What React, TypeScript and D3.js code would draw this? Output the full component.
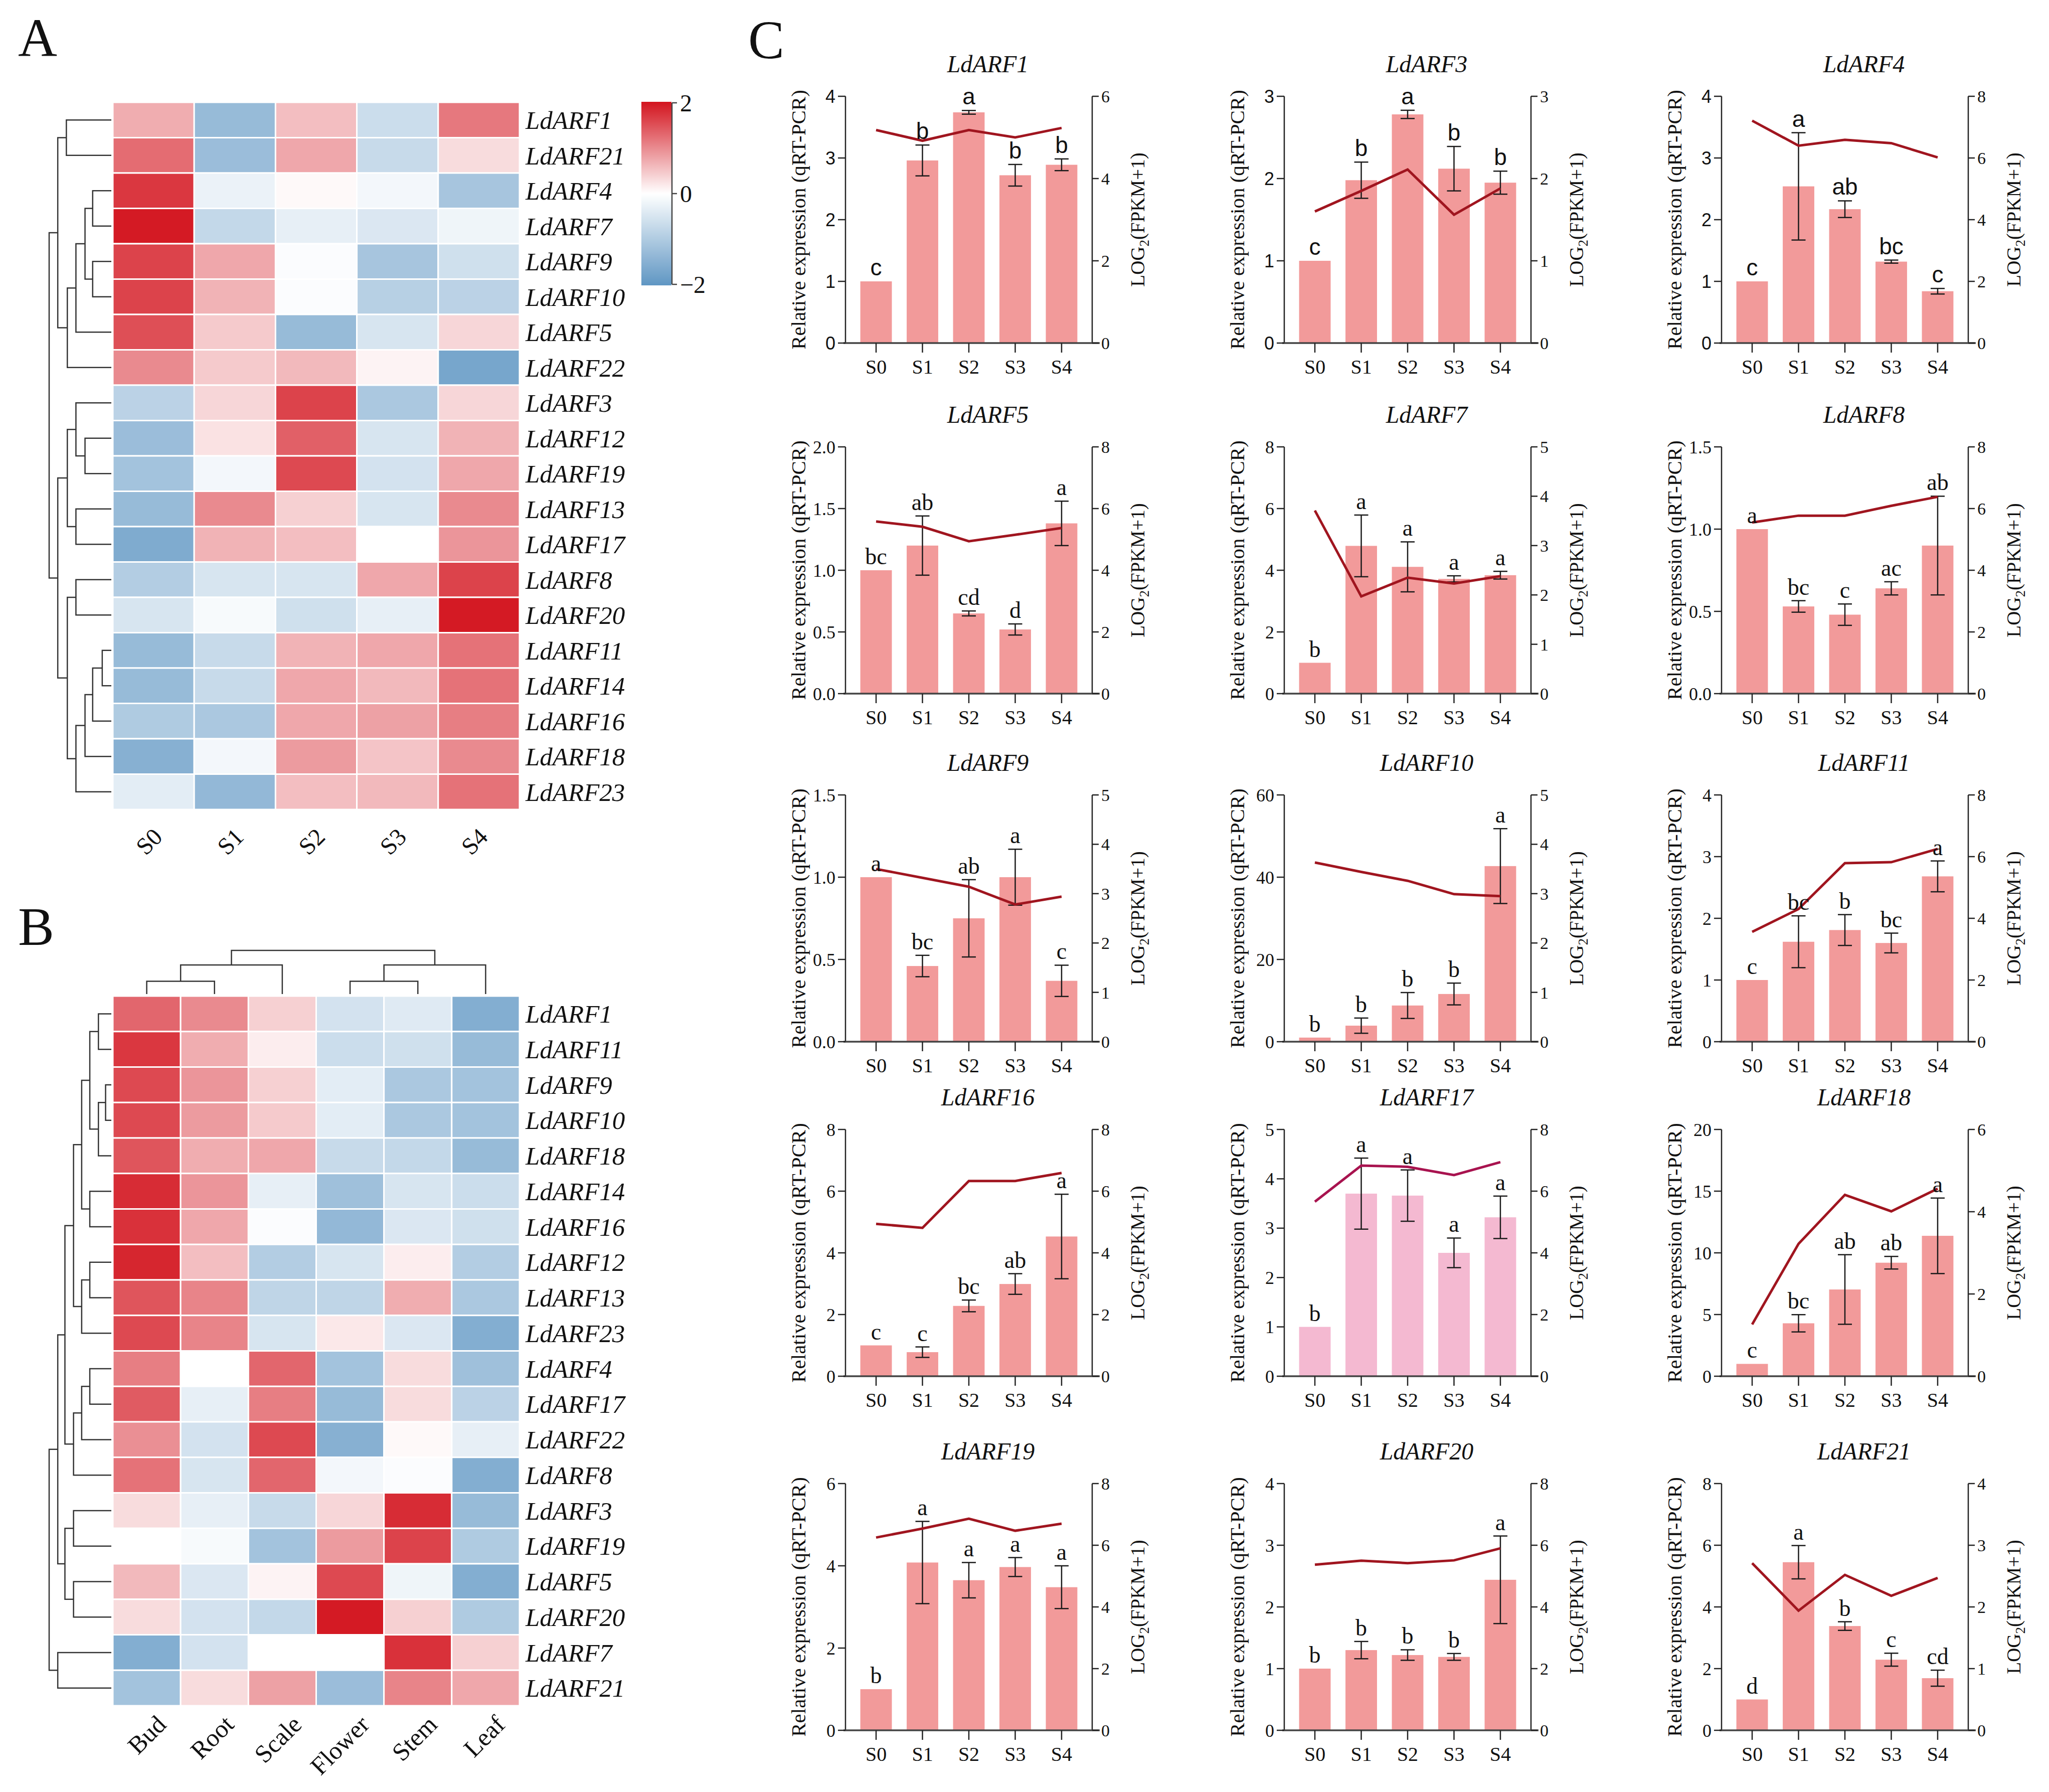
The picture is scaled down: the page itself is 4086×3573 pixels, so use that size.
import * as d3 from 'd3';

// ---------- heatmap data ----------
const stages = ['S0', 'S1', 'S2', 'S3', 'S4'];
const tissues = ['Bud', 'Root', 'Scale', 'Flower', 'Stem', 'Leaf'];

const stageGenes = ['LdARF1', 'LdARF21', 'LdARF4', 'LdARF7', 'LdARF9', 'LdARF10', 'LdARF5', 'LdARF22', 'LdARF3', 'LdARF12',
  'LdARF19', 'LdARF13', 'LdARF17', 'LdARF8', 'LdARF20', 'LdARF11', 'LdARF14', 'LdARF16', 'LdARF18', 'LdARF23'];
const stageZ = [
  [0.7, -1.3, 0.55, -0.65, 1.15],
  [1.25, -1.25, 0.75, -0.7, 0.3],
  [1.7, -0.25, 0.05, -0.15, -1.1],
  [1.95, -0.75, -0.3, -0.45, -0.2],
  [1.6, 0.75, -0.05, -1.1, -0.6],
  [1.6, 0.65, -0.05, -0.9, -0.85],
  [1.5, 0.45, -1.3, -0.5, 0.35],
  [1.0, 0.45, 0.6, 0.1, -1.7],
  [-0.85, 0.35, 1.6, -1.05, 0.35],
  [-1.25, 0.25, 1.35, -0.5, 0.65],
  [-1.15, -0.15, 1.55, -0.55, 0.75],
  [-1.3, 1.0, 0.4, -0.5, 1.0],
  [-1.6, 0.65, 0.55, 0.0, 0.9],
  [-0.95, -0.5, -0.5, 0.75, 1.6],
  [-0.5, -0.1, -0.6, -0.3, 1.95],
  [-1.3, -0.7, 0.65, 0.75, 1.2],
  [-1.3, -0.7, 0.75, 0.6, 1.2],
  [-1.0, -1.05, 0.75, 0.8, 1.1],
  [-1.5, -0.15, 0.85, 0.5, 1.0],
  [-0.35, -1.35, 0.55, 0.6, 1.2],
];

const tissueGenes = ['LdARF1', 'LdARF11', 'LdARF9', 'LdARF10', 'LdARF18', 'LdARF14', 'LdARF16', 'LdARF12', 'LdARF13', 'LdARF23',
  'LdARF4', 'LdARF17', 'LdARF22', 'LdARF8', 'LdARF3', 'LdARF19', 'LdARF5', 'LdARF20', 'LdARF7', 'LdARF21'];
const tissueZ = [
  [1.3, 1.0, 0.4, -0.55, -0.4, -1.55],
  [1.7, 0.7, 0.15, -0.65, -0.6, -1.3],
  [1.55, 0.9, 0.4, -0.35, -1.05, -1.15],
  [1.55, 0.85, 0.45, -0.35, -1.05, -1.15],
  [1.45, 0.7, 0.75, -0.7, -0.75, -1.3],
  [1.8, 0.9, -0.3, -1.2, -0.5, -0.65],
  [1.75, 0.75, -0.05, -1.35, -0.45, -0.6],
  [1.85, 0.55, -0.95, -0.5, 0.15, -0.95],
  [1.45, 1.05, -0.8, -0.8, 0.7, -1.05],
  [1.55, 1.05, -0.5, 0.2, -0.45, -1.55],
  [1.1, 0.0, 1.3, -1.15, 0.3, -1.2],
  [1.4, -0.3, 1.1, -1.3, 0.3, -0.85],
  [0.95, -0.55, 1.55, -1.5, 0.05, -0.3],
  [1.2, -0.5, 1.3, -0.15, -0.05, -1.55],
  [0.3, -0.3, -0.7, 0.35, 1.8, -1.3],
  [0.0, -0.1, -1.15, 0.85, 1.6, -1.0],
  [0.6, -0.45, 0.1, 1.55, -0.2, -1.55],
  [0.3, -0.55, -0.75, 1.95, 0.4, -1.0],
  [-1.55, -0.55, 0.0, 0.0, 1.75, 0.4],
  [-1.15, 0.3, 0.8, -1.25, 1.05, 0.75],
];

// dendrograms: merge height + two children
type Tree = string | { h: number; c: [Tree, Tree] };
const m = (h: number, a: Tree, b: Tree): Tree => ({ h, c: [a, b] });

const stageRowTree = m(130,
  m(112, m(94, 'LdARF1', 'LdARF21'),
    m(92, m(74, m(55, m(39, 'LdARF4', 'LdARF7'), m(39, 'LdARF9', 'LdARF10')), 'LdARF5'), 'LdARF22')),
  m(112,
    m(92, m(74, 'LdARF3', m(55, 'LdARF12', 'LdARF19')), m(74, 'LdARF13', 'LdARF17')),
    m(92, m(74, 'LdARF8', 'LdARF20'),
      m(74, m(55, m(39, m(19, 'LdARF11', 'LdARF14'), 'LdARF16'), 'LdARF18'), 'LdARF23'))));

const tissueRowTree = m(130,
  m(112,
    m(97,
      m(79,
        m(62, m(45, m(27, 'LdARF1', 'LdARF11'), m(27, m(12, 'LdARF9', 'LdARF10'), 'LdARF18')), m(45, 'LdARF14', 'LdARF16')),
        m(62, m(45, 'LdARF12', 'LdARF13'), 'LdARF23')),
      m(79, m(62, m(45, 'LdARF4', 'LdARF17'), 'LdARF22'), 'LdARF8')),
    m(97, m(79, 'LdARF3', 'LdARF19'), m(79, 'LdARF5', 'LdARF20'))),
  m(112, 'LdARF7', 'LdARF21'));

const tissueColTree = m(75, m(50, m(22, 'Bud', 'Root'), 'Scale'), m(50, m(22, 'Flower', 'Stem'), 'Leaf'));

// ---------- qRT-PCR / FPKM data ----------
const chartGenes = ['LdARF1', 'LdARF3', 'LdARF4', 'LdARF5', 'LdARF7', 'LdARF8', 'LdARF9', 'LdARF10', 'LdARF11',
  'LdARF16', 'LdARF17', 'LdARF18', 'LdARF19', 'LdARF20', 'LdARF21'];
const qpcrMean = [
  [1, 2.96, 3.74, 2.72, 2.89],
  [1, 1.98, 2.78, 2.12, 1.95],
  [1, 2.54, 2.17, 1.32, 0.84],
  [1, 1.2, 0.65, 0.52, 1.38],
  [1, 4.79, 4.11, 3.72, 3.84],
  [1, 0.53, 0.48, 0.64, 0.9],
  [1, 0.46, 0.75, 1.0, 0.37],
  [1, 3.9, 8.8, 11.6, 42.7],
  [1, 1.62, 1.81, 1.6, 2.68],
  [1, 0.78, 2.28, 2.99, 4.53],
  [1, 3.7, 3.66, 2.5, 3.22],
  [1, 4.29, 7.03, 9.2, 11.38],
  [1, 4.08, 3.65, 3.97, 3.48],
  [1, 1.3, 1.22, 1.19, 2.44],
  [1, 5.45, 3.38, 2.29, 1.69],
];
const qpcrErr = [
  [0, 0.25, 0.03, 0.175, 0.095],
  [0, 0.22, 0.05, 0.27, 0.14],
  [0, 0.87, 0.135, 0.025, 0.045],
  [0, 0.24, 0.02, 0.045, 0.18],
  [0, 1.0, 0.81, 0.1, 0.125],
  [0, 0.035, 0.065, 0.04, 0.3],
  [0, 0.065, 0.235, 0.17, 0.095],
  [0, 1.85, 3.15, 2.65, 9.1],
  [0, 0.42, 0.25, 0.16, 0.25],
  [0, 0.17, 0.19, 0.335, 1.37],
  [0, 0.72, 0.52, 0.3, 0.43],
  [0, 0.7, 2.82, 0.51, 3.06],
  [0, 1.0, 0.43, 0.23, 0.52],
  [0, 0.14, 0.085, 0.055, 0.71],
  [0, 0.54, 0.14, 0.21, 0.26],
];
const fpkmLog2 = [
  [5.18, 4.92, 5.18, 5.0, 5.23],
  [1.6, 1.85, 2.11, 1.56, 1.88],
  [7.21, 6.4, 6.59, 6.48, 6.02],
  [5.58, 5.41, 4.94, 5.15, 5.37],
  [3.71, 1.97, 2.35, 2.23, 2.38],
  [5.55, 5.77, 5.77, 6.09, 6.38],
  [3.5, 3.32, 3.14, 2.78, 2.94],
  [3.63, 3.44, 3.26, 2.99, 2.95],
  [3.56, 4.3, 5.79, 5.82, 6.25],
  [4.94, 4.81, 6.33, 6.33, 6.59],
  [5.66, 6.83, 6.79, 6.52, 6.94],
  [1.26, 3.22, 4.41, 4.01, 4.56],
  [6.25, 6.54, 6.86, 6.47, 6.7],
  [5.37, 5.5, 5.42, 5.51, 5.9],
  [2.71, 1.94, 2.52, 2.18, 2.47],
];
const sigLetters = [
  ['c', 'b', 'a', 'b', 'b'],
  ['c', 'b', 'a', 'b', 'b'],
  ['c', 'a', 'ab', 'bc', 'c'],
  ['bc', 'ab', 'cd', 'd', 'a'],
  ['b', 'a', 'a', 'a', 'a'],
  ['a', 'bc', 'c', 'ac', 'ab'],
  ['a', 'bc', 'ab', 'a', 'c'],
  ['b', 'b', 'b', 'b', 'a'],
  ['c', 'bc', 'b', 'bc', 'a'],
  ['c', 'c', 'bc', 'ab', 'a'],
  ['b', 'a', 'a', 'a', 'a'],
  ['c', 'bc', 'ab', 'ab', 'a'],
  ['b', 'a', 'a', 'a', 'a'],
  ['b', 'b', 'b', 'b', 'a'],
  ['d', 'a', 'b', 'c', 'cd'],
];
const leftMax = [4, 3, 4, 2, 8, 1.5, 1.5, 60, 4, 8, 5, 20, 6, 4, 8];
const leftStep = [1, 1, 1, 0.5, 2, 0.5, 0.5, 20, 1, 2, 1, 5, 2, 1, 2];
const rightMax = [6, 3, 8, 8, 5, 8, 5, 5, 8, 8, 8, 6, 8, 8, 4];
const rightStep = [2, 1, 2, 2, 1, 2, 1, 1, 2, 2, 2, 2, 2, 2, 1];

// ---------- layout / style ----------
const W = 4086, H = 3573;
const serif = "'Liberation Serif', 'DejaVu Serif', serif";
const sans = "'Liberation Sans', Arial, sans-serif";
const colLeft = [1686, 2561, 3433];
const rowBottom = [684, 1383, 2077, 2744, 3450];
const plotW = 492, plotH = 492;

const heat = d3.scaleLinear<string>().domain([-2, 0, 2]).range(['#5f96c3', '#ffffff', '#d3141e']).clamp(true);

function dendroPaths(tree: Tree, leafPos: (n: string) => number, hPos: (h: number) => number, rows: boolean) {
  const out: string[] = [];
  const walk = (n: Tree): { p: number; h: number } => {
    if (typeof n === 'string') return { p: leafPos(n), h: 0 };
    const [a, b] = n.c.map(walk);
    const hh = hPos(n.h);
    const pts = [[a.p, hPos(a.h)], [a.p, hh], [b.p, hh], [b.p, hPos(b.h)]];
    out.push('M' + pts.map(([p, q]) => (rows ? `${q},${p}` : `${p},${q}`)).join('L'));
    return { p: (a.p + b.p) / 2, h: n.h };
  };
  walk(tree);
  return out;
}

function Heatmap(props: {
  genes: string[]; cols: string[]; z: number[][]; box: number[]; rowTree: Tree; colTree?: Tree;
  labelDx: number; labelDy: number; colFont: number;
}) {
  const { genes, cols, z, box, rowTree, colTree, labelDx, labelDy, colFont } = props;
  const [x0, x1, y0, y1] = box;
  const xb = d3.scaleBand().domain(cols).range([x0, x1]);
  const yb = d3.scaleBand().domain(genes).range([y0, y1]);
  const hRow = d3.scaleLinear().domain([0, 130]).range([x0 - 3, 98]);
  const rowPaths = dendroPaths(rowTree, g => yb(g)! + yb.bandwidth() / 2, hRow, true);
  const colPaths = colTree
    ? dendroPaths(colTree, c => xb(c)! + xb.bandwidth() / 2, d3.scaleLinear().domain([0, 75]).range([y0 - 4, 1895]), false)
    : [];
  return (
    <g>
      {genes.map((g, i) => cols.map((c, j) => (
        <rect key={g + c} x={xb(c)} y={yb(g)} width={xb.bandwidth()} height={yb.bandwidth()}
          fill={heat(z[i][j])} stroke="#fff" strokeWidth={3} />
      )))}
      {genes.map(g => (
        <text key={g} x={x1 + 12} y={yb(g)! + yb.bandwidth() / 2} dy="0.35em" fontFamily={serif}
          fontStyle="italic" fontSize={51} fill="#111">{g}</text>
      ))}
      {cols.map(c => {
        const cx = xb(c)! + xb.bandwidth() / 2 + labelDx;
        const cy = y1 + labelDy;
        return (
          <text key={c} transform={`translate(${cx},${cy}) rotate(-45)`} textAnchor="end" dy="0.75em"
            fontFamily={serif} fontSize={colFont} fill="#111">{c}</text>
        );
      })}
      {[...rowPaths, ...colPaths].map((p, i) => (
        <path key={i} d={p} fill="none" stroke="#333" strokeWidth={2.5} />
      ))}
    </g>
  );
}

function Legend() {
  const ly = d3.scaleLinear().domain([2, -2]).range([205, 567]);
  const stops = d3.range(0, 1.0001, 0.05);
  return (
    <g>
      <defs>
        <linearGradient id="hg" x1="0" y1="0" x2="0" y2="1">
          {stops.map(t => <stop key={t} offset={t} stopColor={heat(2 - 4 * t)} />)}
        </linearGradient>
      </defs>
      <rect x={1279} y={203} width={60} height={366} fill="url(#hg)" />
      <line x1={1340} x2={1340} y1={ly(2)} y2={ly(-2)} stroke="#444" strokeWidth={2.5} />
      {[2, 0, -2].map(v => (
        <g key={v}>
          <line x1={1340} x2={1350} y1={ly(v)} y2={ly(v)} stroke="#444" strokeWidth={2.5} />
          <text x={1356} y={ly(v)} dy="0.35em" fontFamily={serif} fontSize={48} fill="#111">
            {v < 0 ? '\u2212' + Math.abs(v) : v}
          </text>
        </g>
      ))}
    </g>
  );
}

function BarPanel({ i }: { i: number }) {
  const col = i % 3, row = Math.floor(i / 3);
  const left = colLeft[col], bottom = rowBottom[row];
  const right = left + plotW, top = bottom - plotH;
  const mid = (top + bottom) / 2;
  const x = d3.scaleBand().domain(stages).range([left, right]).paddingInner(0.32).paddingOuter(0.32);
  const cx = (s: string) => x(s)! + x.bandwidth() / 2;
  const yL = d3.scaleLinear().domain([0, leftMax[i]]).range([bottom, top]);
  const yR = d3.scaleLinear().domain([0, rightMax[i]]).range([bottom, top]);
  const lTicks = d3.range(0, leftMax[i] + 1e-9, leftStep[i]);
  const rTicks = d3.range(0, rightMax[i] + 1e-9, rightStep[i]);
  const fmt = leftStep[i] < 1 ? d3.format('.1f') : d3.format('d');
  const pink = chartGenes[i] === 'LdARF17';
  const barFill = pink ? '#f4b9d1' : '#f29a9a';
  const lineColor = pink ? '#a8134f' : '#a0151f';
  const markFont = row === 0 ? sans : serif;
  const path = d3.line<number>().x((_, j) => cx(stages[j])).y(v => yR(v))(fpkmLog2[i]) || '';
  return (
    <g>
      <text x={(left + right) / 2 + 38} y={top - 48} textAnchor="middle" fontFamily={serif} fontStyle="italic"
        fontSize={48} fill="#111">{chartGenes[i]}</text>
      {stages.map((s, j) => (
        <rect key={s} x={x(s)} y={yL(qpcrMean[i][j])} width={x.bandwidth()}
          height={bottom - yL(qpcrMean[i][j])} fill={barFill} />
      ))}
      {stages.map((s, j) => {
        const e = qpcrErr[i][j];
        if (!e) return null;
        const v = qpcrMean[i][j];
        return (
          <g key={s} stroke="#1a1a1a" strokeWidth={2.5}>
            <line x1={cx(s)} x2={cx(s)} y1={yL(v - e)} y2={yL(v + e)} />
            <line x1={cx(s) - 14} x2={cx(s) + 14} y1={yL(v - e)} y2={yL(v - e)} />
            <line x1={cx(s) - 14} x2={cx(s) + 14} y1={yL(v + e)} y2={yL(v + e)} />
          </g>
        );
      })}
      <path d={path} fill="none" stroke={lineColor} strokeWidth={5} strokeLinejoin="miter" />
      {stages.map((s, j) => (
        <text key={s} x={cx(s)} y={yL(qpcrMean[i][j] + qpcrErr[i][j]) - 12} textAnchor="middle"
          fontFamily={markFont} fontSize={46} fill="#111">{sigLetters[i][j]}</text>
      ))}
      {/* axes */}
      <line x1={left} x2={left} y1={top} y2={bottom} stroke="#222" strokeWidth={2.5} />
      <line x1={right} x2={right} y1={top} y2={bottom} stroke="#222" strokeWidth={2.5} />
      <line x1={left - 4} x2={right + 15} y1={bottom} y2={bottom} stroke="#444" strokeWidth={3.5} />
      {lTicks.map(t => (
        <g key={t}>
          <line x1={left - 15} x2={left} y1={yL(t)} y2={yL(t)} stroke="#222" strokeWidth={2.5} />
          <text x={left - 20} y={yL(t)} dy="0.35em" textAnchor="end" fontFamily={markFont} fontSize={36}
            fill="#111">{fmt(t)}</text>
        </g>
      ))}
      {rTicks.map(t => (
        <g key={t}>
          <line x1={right} x2={right + 13} y1={yR(t)} y2={yR(t)} stroke="#222" strokeWidth={2.5} />
          <text x={right + 18} y={yR(t)} dy="0.35em" fontFamily={serif} fontSize={34} fill="#111">{t}</text>
        </g>
      ))}
      {stages.map(s => (
        <g key={s}>
          <line x1={cx(s)} x2={cx(s)} y1={bottom} y2={bottom + 19} stroke="#222" strokeWidth={2.5} />
          <text x={cx(s)} y={bottom + 61} textAnchor="middle" fontFamily={serif} fontSize={40} fill="#111">{s}</text>
        </g>
      ))}
      <text transform={`translate(${left - 80},${mid}) rotate(-90)`} textAnchor="middle" fontFamily={serif}
        fontSize={41} fill="#111">Relative expression (qRT-PCR)</text>
      <text transform={`translate(${right + 104},${mid}) rotate(-90)`} textAnchor="middle" fontFamily={serif}
        fontSize={39} fill="#111">LOG<tspan fontSize={27} dy={9}>2</tspan><tspan dy={-9}>(FPKM+1)</tspan></text>
    </g>
  );
}

export default function App() {
  return (
    <svg width={W} height={H} viewBox={`0 0 ${W} ${H}`} style={{ position: 'absolute', left: 0, top: 0, background: '#fff' }}>
      <rect width={W} height={H} fill="#fff" />
      <text x={36} y={112} fontFamily={serif} fontSize={108} fill="#111">A</text>
      <text x={36} y={1884} fontFamily={serif} fontSize={108} fill="#111">B</text>
      <text x={1492} y={116} fontFamily={serif} fontSize={108} fill="#111">C</text>
      <Heatmap genes={stageGenes} cols={stages} z={stageZ} box={[225, 1036, 204, 1614]} rowTree={stageRowTree}
        labelDx={-5} labelDy={32} colFont={48} />
      <Legend />
      <Heatmap genes={tissueGenes} cols={tissues} z={tissueZ} box={[225, 1036, 1986, 3401]} rowTree={tissueRowTree}
        colTree={tissueColTree} labelDx={15} labelDy={14} colFont={50} />
      {chartGenes.map((g, i) => <BarPanel key={g} i={i} />)}
    </svg>
  );
}
